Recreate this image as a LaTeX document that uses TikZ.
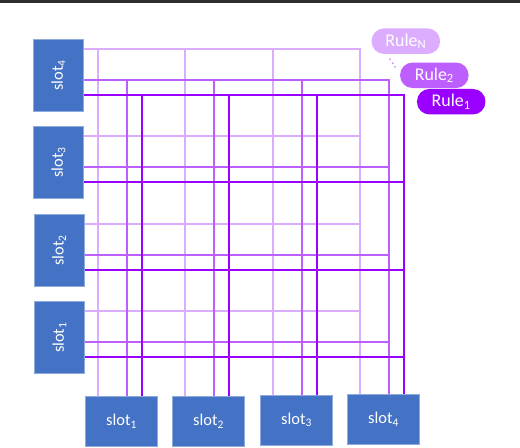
\documentclass[tikz,border=0pt]{standalone}
\usepackage{fontspec}
\setmainfont{Carlito}
\usepackage{graphicx}
\definecolor{slotblue}{HTML}{4472C4}
\definecolor{slotedge}{HTML}{8FAADC}
\definecolor{wireN}{HTML}{DCADFF}
\definecolor{wireM}{HTML}{BD5EFF}
\definecolor{wireD}{HTML}{9A00FF}
\definecolor{dotcol}{HTML}{D398FF}
\begin{document}
\begin{tikzpicture}[x=1bp,y=-1bp,
  slotbox/.style={fill=slotblue,draw=slotedge,line width=0.6bp,text=white,inner sep=0pt,font=\fontsize{16.5}{18}\selectfont},
  leftslot/.style={slotbox,minimum width=50bp,minimum height=72bp},
  botslot/.style={slotbox,minimum width=72bp,minimum height=50bp},
  rulepill/.style={rounded corners=12.5bp,minimum width=68.5bp,minimum height=25.5bp,text=white,inner sep=0pt,font=\fontsize{18}{20}\selectfont},
  wire/.style={line width=2bp}]
\useasboundingbox (0,0) rectangle (520,448);
\fill[black!82] (0,0) rectangle (520,3);

% left slots
\node[leftslot] (L4) at (58.5,75.5) {\rotatebox{90}{slot\textsubscript{4}}};
\node[leftslot] (L3) at (58.5,162.5) {\rotatebox{90}{slot\textsubscript{3}}};
\node[leftslot] (L2) at (59.2,250.5) {\rotatebox{90}{slot\textsubscript{2}}};
\node[leftslot] (L1) at (59.5,337.5) {\rotatebox{90}{slot\textsubscript{1}}};
% bottom slots
\node[botslot] (B1) at (121.5,421.5) {slot\textsubscript{1}};
\node[botslot] (B2) at (208.5,421) {slot\textsubscript{2}};
\node[botslot] (B3) at (296.5,420) {slot\textsubscript{3}};
\node[botslot] (B4) at (383.5,419.5) {slot\textsubscript{4}};

% anchor points of the wires
\foreach \i in {1,...,4} {
  \coordinate (L\i-N) at ([yshift=26.5bp]L\i.east);
  \coordinate (L\i-M) at ([yshift=-4.5bp]L\i.east);
  \coordinate (L\i-D) at ([yshift=-19.5bp]L\i.east);
  \coordinate (B\i-N) at ([xshift=-23.5bp]B\i.north);
  \coordinate (B\i-M) at ([xshift=5.5bp]B\i.north);
  \coordinate (B\i-D) at ([xshift=20.5bp]B\i.north);
}

% rule grids
\foreach \rr/\cc in {N/wireN,M/wireM,D/wireD} {
  \draw[wire,draw=\cc] (L4-\rr) -- (L4-\rr -| B4-\rr) -- (B4-\rr);
  \foreach \i in {1,2,3} {
    \draw[wire,draw=\cc] (L\i-\rr) -- (L\i-\rr -| B4-\rr);
    \draw[wire,draw=\cc] (B\i-\rr) -- (B\i-\rr |- L4-\rr);
  }
}

% rule labels
\node[rulepill,fill=wireN] (RN) at (405.8,41.2) {Rule\textsubscript{N}};
\node[rulepill,fill=wireM] (R2) at (434.3,75.3) {Rule\textsubscript{2}};
\node[rulepill,fill=wireD] (R1) at (451.2,101.7) {Rule\textsubscript{1}};
\foreach \p in {(390,59.3),(392.7,63.3),(395,66.7)}
  \fill[dotcol] \p circle (1.1bp);
\end{tikzpicture}
\end{document}
